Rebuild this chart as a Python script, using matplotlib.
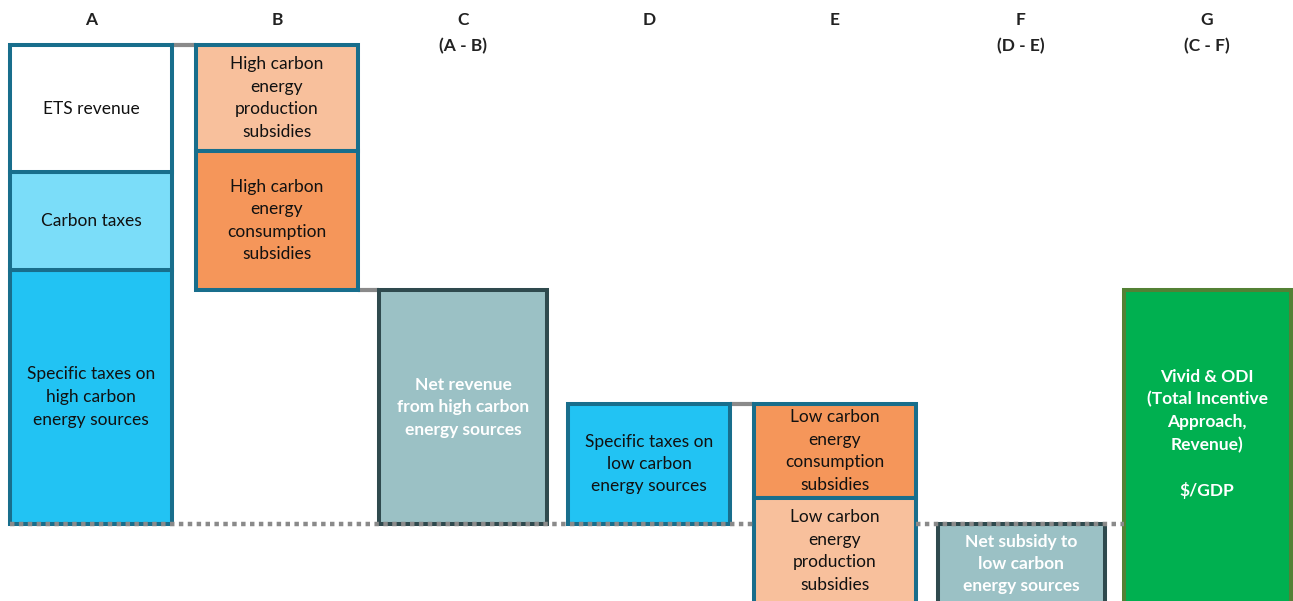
import numpy as np
import matplotlib.pyplot as plt

plt.rcParams['font.family'] = ['Lato', 'DejaVu Sans']

# column headers
headers = ['A', 'B', 'C\n(A - B)', 'D', 'E', 'F\n(D - E)', 'G\n(C - F)']

# A: revenue from high carbon sources, stacked bottom-up
a_labels = ['Specific taxes on\nhigh carbon\nenergy sources', 'Carbon taxes', 'ETS revenue']
a_values = [254, 98, 127]
a_colors = ['#22C3F3', '#7BDDF9', '#FFFFFF']

# B: high carbon subsidies, stacked top-down from the top of A
b_labels = ['High carbon\nenergy\nproduction\nsubsidies', 'High carbon\nenergy\nconsumption\nsubsidies']
b_values = [106, 139]
b_colors = ['#F8C09C', '#F5965A']

# D: specific taxes on low carbon sources
d_labels = ['Specific taxes on\nlow carbon\nenergy sources']
d_values = [120]
d_colors = ['#22C3F3']

# E: low carbon subsidies, stacked top-down from the top of D
e_labels = ['Low carbon\nenergy\nconsumption\nsubsidies', 'Low carbon\nenergy\nproduction\nsubsidies']
e_values = [94, 106]
e_colors = ['#F5965A', '#F8C09C']

c_label = 'Net revenue\nfrom high carbon\nenergy sources'
f_label = 'Net subsidy to\nlow carbon\nenergy sources'
g_label = 'Vivid & ODI\n(Total Incentive\nApproach,\nRevenue)\n\n$/GDP'

c_value = sum(a_values) - sum(b_values)
f_value = sum(d_values) - sum(e_values)
g_value = c_value - f_value

edge_part = '#186E8C'
edge_net = '#2F4A4E'
net_fill = '#9BC1C5'
grey = '#8A8A8A'
w_part = 0.875
w_net = 0.898
lw = 2.9
fs = 12.5
ls = 1.5

fig = plt.figure(figsize=(12.93, 6.01), dpi=100)
ax = fig.add_axes([0, 0, 1, 1])
ax.set_xlim(-0.489, 6.462)
ax.set_ylim(-77, 524)
ax.axis('off')


def seg(x, bottom, height, color, label, width=w_part, edge=edge_part,
        txtcolor='#111111', bold=False):
    ax.bar(x, height, bottom=bottom, width=width, color=color,
           edgecolor=edge, linewidth=lw, zorder=2)
    ax.text(x, bottom + height / 2, label, ha='center', va='center',
            fontsize=fs, color=txtcolor, linespacing=ls,
            fontweight='bold' if bold else 'normal', zorder=4)


# A stacked from zero
bottom = 0
for v, c, lab in zip(a_values, a_colors, a_labels):
    seg(0, bottom, v, c, lab)
    bottom += v
a_top = bottom

# B hangs down from A's top
top = a_top
for v, c, lab in zip(b_values, b_colors, b_labels):
    seg(1, top - v, v, c, lab)
    top -= v
b_bottom = top

# C net bar
seg(2, 0, c_value, net_fill, c_label, width=w_net, edge=edge_net,
    txtcolor='white', bold=True)

# D
bottom = 0
for v, c, lab in zip(d_values, d_colors, d_labels):
    seg(3, bottom, v, c, lab)
    bottom += v
d_top = bottom

# E hangs down from D's top
top = d_top
for v, c, lab in zip(e_values, e_colors, e_labels):
    seg(4, top - v, v, c, lab)
    top -= v

# F net subsidy (negative)
seg(5, f_value, -f_value, net_fill, f_label, width=w_net, edge=edge_net,
    txtcolor='white', bold=True)

# G total
ax.bar(6, g_value, bottom=f_value, width=w_net, color='#00B050',
       edgecolor='#538135', linewidth=lw, zorder=2)
ax.text(6, c_value - 144, g_label, ha='center', va='center', fontsize=fs,
        color='white', fontweight='bold', linespacing=ls, zorder=4)


# connectors between bars
def connector(x0, x1, y, w0=w_part, w1=w_part):
    ax.plot([x0 + w0 / 2, x1 - w1 / 2], [y, y], color=grey, lw=3,
            solid_capstyle='butt', zorder=1)


connector(0, 1, a_top)
connector(1, 2, b_bottom, w1=w_net)
connector(3, 4, d_top)

# dotted zero line, broken where column E crosses it
dot = dict(color=grey, lw=3.2, linestyle=(0, (1, 1)), zorder=3)
ax.plot([0 - w_part / 2, 4 - w_part / 2], [0, 0], **dot)
ax.plot([4 + w_part / 2, 6 - w_net / 2], [0, 0], **dot)

# headers
for i, h in enumerate(headers):
    ax.text(i, 1 - 12 / 601, h, transform=ax.get_xaxis_transform(),
            ha='center', va='top', fontsize=fs, fontweight='bold',
            color='#222222', linespacing=1.75)

fig.savefig('out.png', dpi=100)
